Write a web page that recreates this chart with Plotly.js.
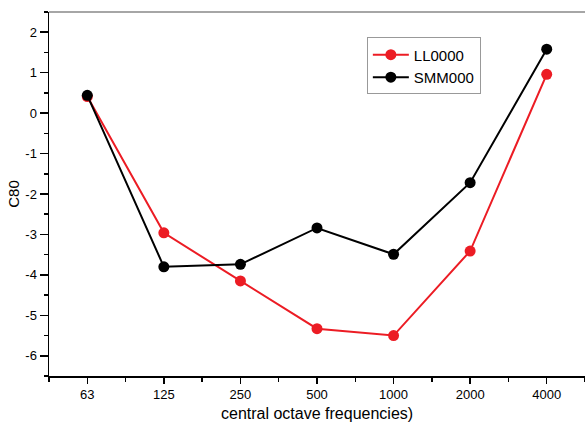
<!DOCTYPE html>
<html>
<head>
<meta charset="utf-8">
<script src="https://cdn.plot.ly/plotly-3.0.1.min.js"></script>
<style>
  html, body { margin: 0; padding: 0; background: #fff; }
  #chart { width: 585px; height: 425px; }
</style>
</head>
<body>
<div id="chart"></div>
<script>
// Octave band centre frequencies (Hz)
const categories = ['63', '125', '250', '500', '1000', '2000', '4000'];
// C80 clarity values (dB) per band
const ll0000 = [0.41, -2.96, -4.15, -5.33, -5.50, -3.41, 0.96];
const smm000 = [0.44, -3.80, -3.74, -2.84, -3.49, -1.72, 1.58];
// Y tick positions, labelled with a plain hyphen minus
const yTicks = [2, 1, 0, -1, -2, -3, -4, -5, -6];
const xTitle = 'central octave frequencies)';

const xIdx = categories.map((_, i) => i);
const font = { family: 'Liberation Sans, Arial, sans-serif', color: '#000' };

const traces = [
  {
    x: xIdx, y: ll0000, name: 'LL0000', mode: 'lines+markers',
    line: { color: '#ec1c24', width: 2 },
    marker: { color: '#ec1c24', size: 11 }
  },
  {
    x: xIdx, y: smm000, name: 'SMM000', mode: 'lines+markers',
    line: { color: '#000', width: 2 },
    marker: { color: '#000', size: 11 }
  }
];

const layout = {
  width: 585, height: 425,
  margin: { l: 49, r: 0, t: 12, b: 49 },
  paper_bgcolor: '#fff', plot_bgcolor: '#fff',
  font: Object.assign({ size: 13 }, font),
  showlegend: true,
  legend: {
    x: 0.593, y: 0.93, xanchor: 'left', yanchor: 'top',
    bgcolor: '#fff', bordercolor: '#999', borderwidth: 1,
    font: Object.assign({ size: 15 }, font),
    tracegroupgap: 0, itemwidth: 36
  },
  xaxis: {
    range: [-0.5, 6.5], tickmode: 'array', tickvals: xIdx, ticktext: categories,
    showgrid: false, zeroline: false, showline: true, linecolor: '#000', linewidth: 1.5,
    ticks: 'outside', ticklen: 6, tickwidth: 1.5, tickcolor: '#000',
    minor: { dtick: 0.5, tick0: -0.5, ticks: 'outside', ticklen: 4, tickwidth: 1.5, tickcolor: '#000', showgrid: false },
    tickfont: Object.assign({ size: 13 }, font)
  },
  yaxis: {
    range: [-6.5, 2.5], tickmode: 'array', tickvals: yTicks,
    ticktext: yTicks.map(v => String(v)),
    showgrid: false, zeroline: false, showline: true, linecolor: '#000', linewidth: 1.5,
    ticks: 'outside', ticklen: 8, tickwidth: 1.5, tickcolor: '#000',
    minor: { dtick: 0.5, tick0: 0, ticks: 'outside', ticklen: 4, tickwidth: 1.5, tickcolor: '#000', showgrid: false },
    tickfont: Object.assign({ size: 13 }, font),
    title: { text: 'C80', font: Object.assign({ size: 15 }, font), standoff: 2 }
  },
  // x-axis title placed low, just above the page edge
  annotations: [
    { text: xTitle, xref: 'paper', yref: 'paper', x: 0.5, y: -0.104,
      xanchor: 'center', yanchor: 'middle', showarrow: false,
      font: Object.assign({ size: 16 }, font) }
  ],
  shapes: [
    { type: 'line', xref: 'paper', yref: 'paper', x0: 0, x1: 1, y0: 1, y1: 1,
      line: { color: '#888', width: 1.5 } }
  ]
};

Plotly.newPlot('chart', traces, layout, { displayModeBar: false, staticPlot: true });
</script>
</body>
</html>
